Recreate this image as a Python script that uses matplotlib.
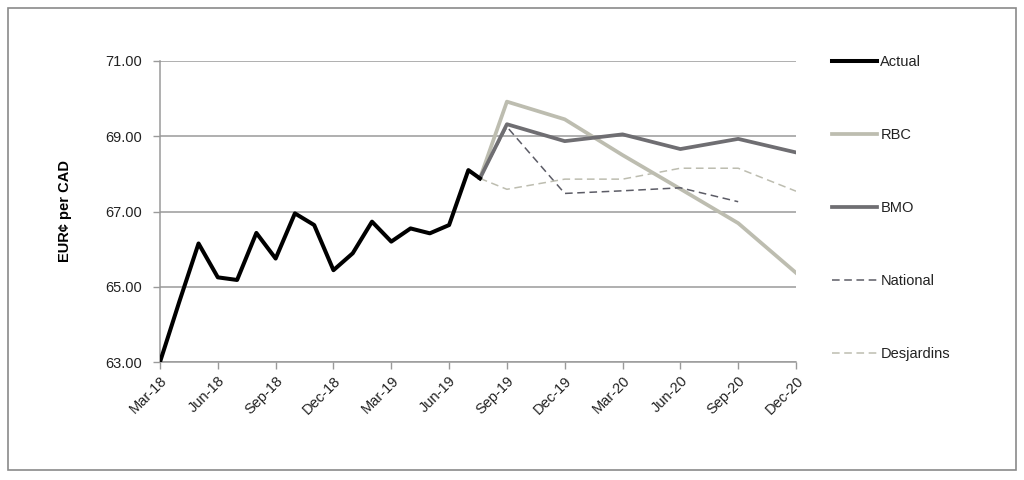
import matplotlib
matplotlib.use('Agg')
from matplotlib import pyplot as plt
from matplotlib.patches import Rectangle

plt.rcParams['font.family'] = ['Liberation Sans', 'DejaVu Sans']

# month index: 0 = Mar-18
actual_x = [0, 1, 2, 3, 4, 5, 6, 7, 8, 9, 10, 11, 12, 13, 14, 15, 16, 16.6]
actual = [63.0, 64.6, 66.15, 65.25, 65.18, 66.43, 65.75, 66.95, 66.64, 65.44,
          65.89, 66.73, 66.2, 66.55, 66.42, 66.64, 68.1, 67.88]

fc_x = [16.6, 18, 21, 24, 27, 30, 33]
rbc = [67.88, 69.92, 69.45, 68.5, 67.6, 66.69, 65.37]
bmo = [67.88, 69.32, 68.87, 69.05, 68.66, 68.93, 68.57]
desjardins = [67.88, 67.59, 67.86, 67.86, 68.15, 68.15, 67.54]
national_x = [16.6, 18, 21, 24, 27, 30]
national = [67.88, 69.25, 67.48, 67.55, 67.63, 67.26]

tick_labels = ['Mar-18', 'Jun-18', 'Sep-18', 'Dec-18', 'Mar-19', 'Jun-19',
               'Sep-19', 'Dec-19', 'Mar-20', 'Jun-20', 'Sep-20', 'Dec-20']

fig = plt.figure(figsize=(10.24, 4.8), dpi=100)
ax = fig.add_axes([160 / 1024, 1 - 362 / 480, 636 / 1024, 301 / 480])

ax.plot(actual_x, actual, color='black', lw=2.9, label='Actual', zorder=5)
ax.plot(fc_x, rbc, color='#bdbdb0', lw=2.7, label='RBC', zorder=3)
ax.plot(fc_x, bmo, color='#6f6e72', lw=2.7, label='BMO', zorder=4)
ax.plot(national_x, national, color='#5c5c66', lw=1.1, ls=(0, (5, 3)), label='National', zorder=3)
ax.plot(fc_x, desjardins, color='#bdbdb0', lw=1.1, ls=(0, (5, 3)), label='Desjardins', zorder=3)

ax.set_xlim(0, 33)
ax.set_ylim(63, 71)
ax.set_yticks([63, 65, 67, 69, 71])
ax.set_yticklabels(['%.2f' % v for v in [63, 65, 67, 69, 71]], fontsize=10.5, color='#222222')
ax.set_xticks(range(0, 34, 3))
ax.set_xticklabels(tick_labels, rotation=45, ha='right', rotation_mode='anchor', fontsize=10.5, color='#222222')
ax.set_ylabel('EUR¢ per CAD', fontsize=10.5, fontweight='bold', labelpad=24)

ax.grid(axis='y', color='#9a9a9a', lw=1.1)
ax.set_axisbelow(True)
for s in ['top', 'right']:
    ax.spines[s].set_visible(False)
for s in ['left', 'bottom']:
    ax.spines[s].set_color('#9a9a9a')
    ax.spines[s].set_linewidth(1.1)
ax.tick_params(axis='both', color='#9a9a9a', length=5, width=1)
ax.tick_params(axis='y', pad=8)

leg = fig.legend(loc='upper left', bbox_to_anchor=(819 / 1024, 1 - 42 / 480),
                 frameon=False, fontsize=10.5, handlelength=3.1, handletextpad=0.2,
                 labelspacing=4.05)
for t in leg.get_texts():
    t.set_color('#222222')

fig.patches.append(Rectangle((8 / 1024, 10 / 480), 1008 / 1024, 462 / 480,
                             transform=fig.transFigure, fill=False,
                             edgecolor='#8a8a8a', lw=1.2))

fig.savefig('out.png', dpi=100)
